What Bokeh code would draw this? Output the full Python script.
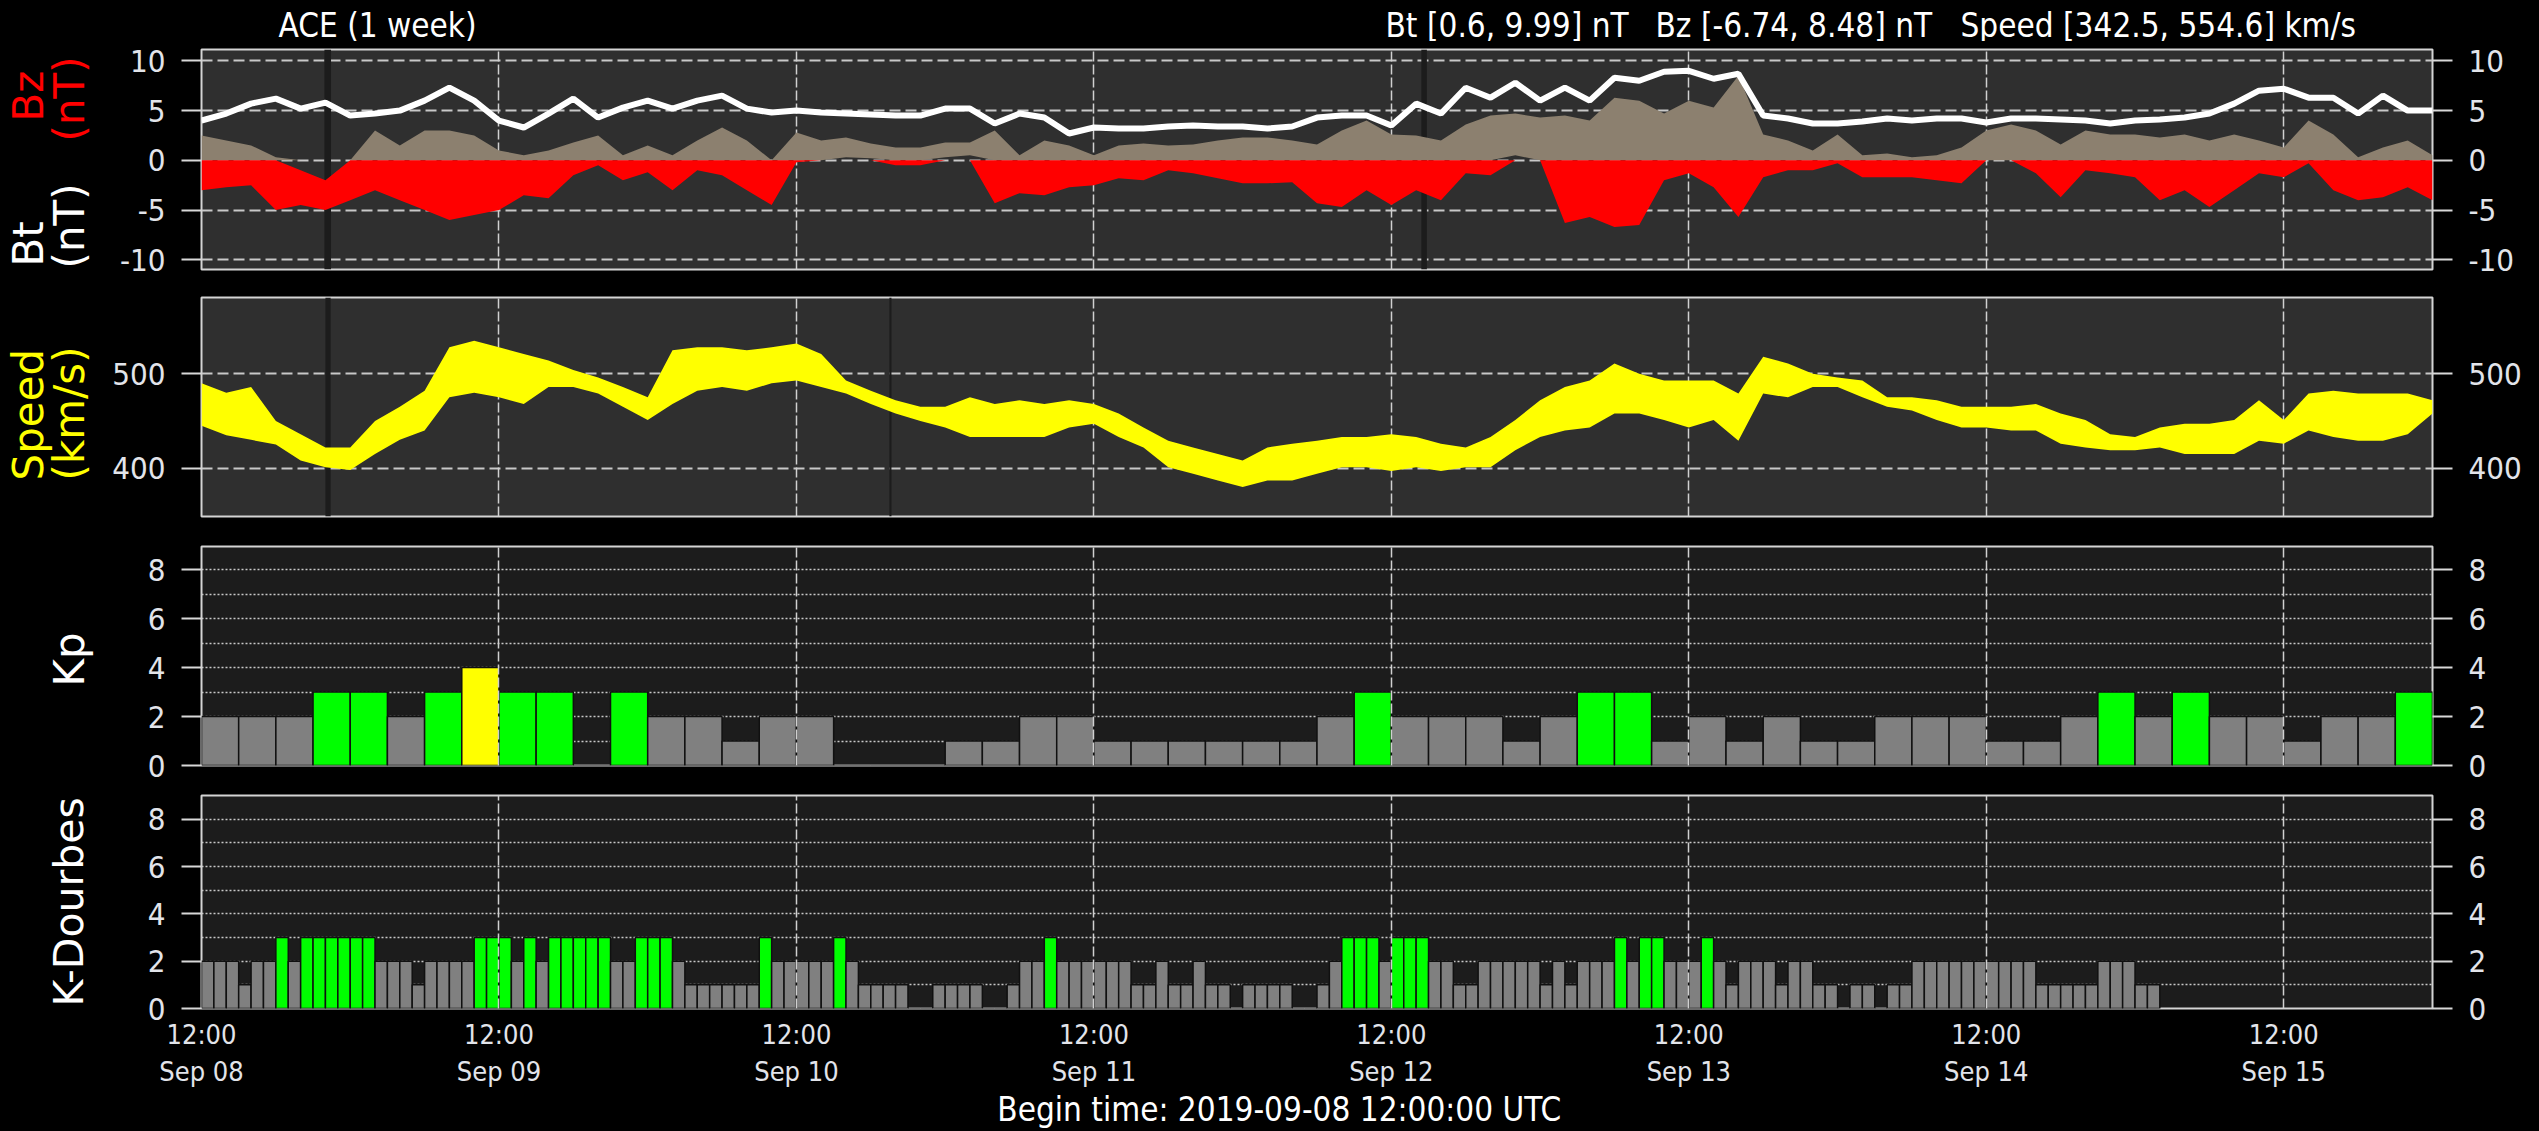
import numpy as np
import pandas as pd
from math import pi
from bokeh.plotting import figure
from bokeh.core.properties import value
from bokeh.models import (Range1d, LinearAxis, DatetimeAxis, FixedTicker, Grid,
                          DatetimeTickFormatter, BoxAnnotation, ColumnDataSource)
from bokeh.layouts import column, row
from bokeh.embed import file_html
from bokeh.resources import INLINE

# ---------------- data ----------------
BEGIN = "2019-09-08 12:00:00"
END = "2019-09-16 00:00:00"
SAMPLE_HOURS = 2          # Bt / Bz / speed samples every 2 hours

bt = [4.0, 4.7, 5.7, 6.2, 5.2, 5.8, 4.5, 4.7, 5.0, 6.0,
      7.3, 6.0, 4.0, 3.3, 4.7, 6.2, 4.3, 5.3, 6.0, 5.2,
      6.0, 6.5, 5.2, 4.8, 5.0, 4.8, 4.7, 4.6, 4.5, 4.5,
      5.2, 5.2, 3.7, 4.7, 4.3, 2.7, 3.3, 3.2, 3.2, 3.4,
      3.5, 3.4, 3.4, 3.2, 3.4, 4.3, 4.5, 4.5, 3.5, 5.7,
      4.7, 7.3, 6.3, 7.8, 6.0, 7.3, 6.0, 8.3, 8.0, 8.9,
      9.0, 8.2, 8.7, 4.5, 4.2, 3.7, 3.7, 3.9, 4.2, 4.0,
      4.2, 4.2, 3.8, 4.2, 4.2, 4.1, 4.0, 3.7, 4.0, 4.1,
      4.3, 4.7, 5.7, 7.0, 7.2, 6.3, 6.3, 4.7, 6.5, 5.0,
      5.0]

bz_lo = [-3.0, -2.7, -2.5, -5.0, -4.5, -5.0, -4.0, -3.0, -4.0, -5.0,
         -6.0, -5.5, -5.0, -3.5, -3.8, -1.5, -0.5, -2.0, -1.2, -3.0,
         -1.0, -1.5, -3.0, -4.5, -0.2, 0.0, 0.3, 0.2, -0.5, -0.5,
         0.3, 0.5, -4.3, -3.3, -3.5, -2.7, -2.5, -1.8, -2.0, -1.0,
         -1.3, -1.8, -2.3, -2.3, -2.2, -4.3, -4.7, -3.0, -4.5, -3.0,
         -4.0, -1.3, -1.5, 0.5, 0.0, -6.3, -5.7, -6.7, -6.5, -2.0,
         -1.3, -2.7, -5.7, -1.7, -1.0, -1.0, -0.3, -1.7, -1.7, -1.7,
         -2.0, -2.3, 0.0, 0.0, -1.3, -3.7, -1.0, -1.3, -1.7, -4.0,
         -3.0, -4.7, -3.0, -1.3, -1.7, -0.3, -3.0, -4.0, -3.7, -2.7,
         -4.0]

bz_hi = [2.5, 2.0, 1.5, 0.3, -1.0, -2.0, 0.0, 3.0, 1.5, 3.0,
         3.0, 2.5, 1.0, 0.5, 1.0, 1.8, 2.5, 0.5, 1.5, 0.5,
         2.0, 3.3, 2.0, 0.0, 2.8, 2.0, 2.3, 1.7, 1.3, 1.3,
         1.8, 1.8, 3.0, 0.5, 2.0, 1.5, 0.5, 1.5, 1.7, 1.5,
         1.6, 2.0, 2.3, 2.3, 2.0, 1.6, 3.0, 4.0, 2.6, 2.5,
         2.0, 3.6, 4.5, 4.7, 4.3, 4.5, 4.0, 6.3, 6.0, 4.7,
         6.0, 5.3, 8.5, 2.6, 2.0, 1.0, 2.6, 0.5, 0.7, 0.3,
         0.5, 1.3, 3.0, 3.6, 3.0, 1.6, 3.0, 2.6, 2.6, 2.3,
         2.6, 2.0, 2.6, 2.0, 1.3, 4.0, 2.6, 0.3, 1.3, 2.0,
         0.5]

speed_lo = [445, 435, 430, 425, 408, 401, 398, 415, 430, 440,
            475, 480, 475, 468, 486, 486, 479, 465, 451, 468,
            482, 486, 482, 490, 493, 486, 479, 468, 458, 450,
            443, 433, 433, 433, 433, 443, 447, 433, 422, 401,
            394, 387, 380, 387, 387, 394, 401, 401, 397, 401,
            397, 401, 401, 419, 433, 440, 443, 458, 458, 451,
            443, 451, 429, 479, 475, 486, 486, 475, 465, 461,
            451, 443, 443, 440, 440, 426, 422, 419, 419, 422,
            415, 415, 415, 429, 426, 440, 433, 429, 429, 436,
            458]

speed_hi = [490, 480, 486, 450, 436, 422, 422, 450, 465, 482,
            528, 535, 528, 521, 514, 504, 496, 486, 475, 525,
            528, 528, 525, 528, 532, 521, 493, 482, 472, 465,
            465, 475, 468, 472, 468, 472, 468, 458, 443, 429,
            422, 415, 408, 422, 426, 429, 433, 433, 436, 433,
            426, 422, 433, 451, 472, 486, 493, 511, 500, 493,
            493, 493, 479, 518, 511, 500, 496, 493, 475, 475,
            472, 465, 465, 465, 468, 458, 451, 436, 433, 443,
            447, 447, 451, 472, 451, 479, 482, 479, 479, 479,
            472]

KP_HOURS = 3
kp = [2, 2, 2, 3, 3, 2, 3, 4, 3, 3, 0, 3, 2, 2, 1, 2, 2, 0, 0, 0, 1, 1, 2, 2,
      1, 1, 1, 1, 1, 1, 2, 3, 2, 2, 2, 1, 2, 3, 3, 1, 2, 1, 2, 1, 1, 2, 2, 2,
      1, 1, 2, 3, 2, 3, 2, 2, 1, 2, 2, 3]

KD_HOURS = 1
k_dourbes = [2, 2, 2, 1, 2, 2, 3, 2, 3, 3, 3, 3, 3, 3, 2, 2, 2, 1, 2, 2, 2, 2, 3, 3,
             3, 2, 3, 2, 3, 3, 3, 3, 3, 2, 2, 3, 3, 3, 2, 1, 1, 1, 1, 1, 1, 3, 2, 2,
             2, 2, 2, 3, 2, 1, 1, 1, 1, 0, 0, 1, 1, 1, 1, 0, 0, 1, 2, 2, 3, 2, 2, 2,
             2, 2, 2, 1, 1, 2, 1, 1, 2, 1, 1, 0, 1, 1, 1, 1, 0, 0, 1, 2, 3, 3, 3, 2,
             3, 3, 3, 2, 2, 1, 1, 2, 2, 2, 2, 2, 1, 2, 1, 2, 2, 2, 3, 2, 3, 3, 2, 2,
             2, 3, 2, 1, 2, 2, 2, 1, 2, 2, 1, 1, 0, 1, 1, 0, 1, 1, 2, 2, 2, 2, 2, 2,
             2, 2, 2, 2, 1, 1, 1, 1, 1, 2, 2, 2, 1, 1]

day_ticks = ["2019-09-08 12:00", "2019-09-09 12:00", "2019-09-10 12:00", "2019-09-11 12:00",
             "2019-09-12 12:00", "2019-09-13 12:00", "2019-09-14 12:00", "2019-09-15 12:00"]

mag_gaps = [("2019-09-08 21:55", "2019-09-08 22:27"), ("2019-09-12 14:25", "2019-09-12 14:52")]
speed_gaps = [("2019-09-08 22:00", "2019-09-08 22:25"), ("2019-09-10 19:30", "2019-09-10 19:40")]

header = ["ACE (1 week)", "Bt [0.6, 9.99] nT", "Bz [-6.74, 8.48] nT", "Speed [342.5, 554.6] km/s"]
mag_ticks = [-10, -5, 0, 5, 10]
speed_ticks = [400, 500]
k_ticks = [0, 2, 4, 6, 8]
k_grid = [1, 2, 3, 4, 5, 6, 7, 8]

# ---------------- helpers ----------------
def ms(ts):
    return pd.Timestamp(ts).value / 1e6

t0 = pd.Timestamp(BEGIN)
t_samp = t0 + pd.to_timedelta(np.arange(len(bt)) * SAMPLE_HOURS, unit="h")
tick_ms = [ms(d) for d in day_ticks]

TOTAL_W = 2539
LAB_W = 108
W = TOTAL_W - LAB_W
COND = "DejaVu Sans Condensed"
LAB = "DejaVu Sans"
TICK_COL = "#e2e4ea"


def kcolor(v):
    if v >= 5:
        return "#ff0000"
    if v >= 4:
        return "#ffff00"
    if v >= 3:
        return "#00ff00"
    return "#808080"


def label_fig(height, top, bottom):
    # text strip whose frame matches its neighbour's frame; data units == canvas pixels
    p = figure(width=LAB_W, height=height, x_range=Range1d(0, LAB_W),
               y_range=Range1d(bottom, height - top),
               x_axis_type=None, y_axis_type=None, tools="", toolbar_location=None,
               output_backend="svg", min_border_left=0, min_border_right=0,
               min_border_top=top, min_border_bottom=bottom, outline_line_color=None,
               background_fill_color="black", border_fill_color="black")
    return p


def strip_fig(width, height):
    p = figure(width=width, height=height, x_range=Range1d(0, width), y_range=Range1d(0, height),
               x_axis_type=None, y_axis_type=None, tools="", toolbar_location=None,
               output_backend="svg", min_border=0, outline_line_color=None,
               background_fill_color="black", border_fill_color="black")
    return p


def make_fig(height, top, bottom, y0, y1, bg):
    p = figure(width=W, height=height, x_range=Range1d(ms(BEGIN), ms(END)),
               y_range=Range1d(y0, y1), x_axis_type=None, y_axis_type=None,
               tools="", toolbar_location=None, output_backend="svg",
               min_border_left=93, min_border_right=107, min_border_top=top,
               min_border_bottom=bottom, background_fill_color=bg,
               border_fill_color="black", outline_line_color="#d4d4d4",
               outline_line_width=2)
    return p


def style_axis(ax, size):
    ax.axis_line_color = None
    ax.major_tick_line_color = "#d8d8d8"
    ax.major_tick_line_width = 2
    ax.major_tick_out = 20
    ax.major_tick_in = 0
    ax.minor_tick_line_color = None
    ax.major_label_text_font = COND
    ax.major_label_text_font_size = size
    ax.major_label_text_color = TICK_COL
    ax.major_label_standoff = 16


def add_y_axes(p, ticks):
    for side in ("left", "right"):
        ax = LinearAxis(ticker=FixedTicker(ticks=ticks))
        ax.major_label_overrides = {v: str(v) for v in ticks}
        style_axis(ax, "31px")
        p.add_layout(ax, side)


def add_grids(p, yticks, ydash, ywidth, vlevel):
    hg = Grid(dimension=1, ticker=FixedTicker(ticks=yticks), grid_line_color="#c8c8c8",
              grid_line_dash=ydash, grid_line_width=ywidth)
    p.add_layout(hg)
    vg = Grid(dimension=0, ticker=FixedTicker(ticks=tick_ms), grid_line_color="#d0d0d0",
              grid_line_dash="10 3", grid_line_width=1.5, level=vlevel)
    p.add_layout(vg)


def vtext(p, items, size="42px"):
    # items: (text, x, start y, color) ; text reads bottom -> top
    p.text(x=[i[1] for i in items], y=[i[2] for i in items], text=[i[0] for i in items],
           text_color=[i[3] for i in items], angle=pi / 2, text_align="left",
           text_baseline="alphabetic", text_font=value(LAB), text_font_size=size)


COL1, COL2 = 28, 68.5

# ---------------- header strip ----------------
H_HEAD = 41
head = strip_fig(TOTAL_W, H_HEAD)
head.text(x=[278, 1385, 1655, 1960], y=[16.5] * 4, text=header, text_color="white",
          text_align="left", text_baseline="alphabetic", text_font=value(COND),
          text_font_size="33px")

# ---------------- panel 1 : Bt / Bz ----------------
H1, T1, B1 = 242, 8, 14
p1 = make_fig(H1, T1, B1, -10.97, 11.14, "#2f2f2f")
add_y_axes(p1, mag_ticks)
add_grids(p1, mag_ticks, "11 5", 2, "underlay")
for a, b in mag_gaps:
    p1.add_layout(BoxAnnotation(left=ms(a), right=ms(b), fill_color="#1c1c1c",
                                fill_alpha=1, line_color=None, level="underlay"))
blo = np.array(bz_lo)
bhi = np.array(bz_hi)
src1 = ColumnDataSource(dict(t=t_samp, bt=bt,
                             red_lo=np.minimum(blo, 0), red_hi=np.minimum(bhi, 0),
                             tan_lo=np.maximum(blo, 0), tan_hi=np.maximum(bhi, 0)))
p1.varea(x="t", y1="tan_lo", y2="tan_hi", source=src1, fill_color="#8c806f")
p1.varea(x="t", y1="red_lo", y2="red_hi", source=src1, fill_color="#ff0000")
p1.line(x="t", y="bt", source=src1, line_color="white", line_width=6)

l1 = label_fig(H1, T1, B1)
vtext(l1, [("Bz", COL1, 162, "#ff0000"), ("(nT)", COL2, 142, "#ff0000"),
           ("Bt", COL1, 17, "white"), ("(nT)", COL2, 15, "white")])

# ---------------- panel 2 : speed ----------------
H2, T2, B2 = 248, 14, 15
p2 = make_fig(H2, T2, B2, 348.8, 580.8, "#2f2f2f")
add_y_axes(p2, speed_ticks)
add_grids(p2, speed_ticks, "11 5", 2, "underlay")
for a, b in speed_gaps:
    p2.add_layout(BoxAnnotation(left=ms(a), right=ms(b), fill_color="#1c1c1c",
                                fill_alpha=1, line_color=None, level="underlay"))
src2 = ColumnDataSource(dict(t=t_samp, lo=speed_lo, hi=speed_hi))
p2.varea(x="t", y1="lo", y2="hi", source=src2, fill_color="#ffff00")

l2 = label_fig(H2, T2, B2)
vtext(l2, [("Speed", COL1, 51, "#ffff00"), ("(km/s)", COL2, 51, "#ffff00")])

# ---------------- panel 3 : Kp ----------------
H3, T3, B3 = 256, 15, 22
p3 = make_fig(H3, T3, B3, 0, 8.95, "#1c1c1c")
add_y_axes(p3, k_ticks)
add_grids(p3, k_grid, "2 2", 1.5, "annotation")
kp_t = t0 + pd.to_timedelta(np.arange(len(kp)) * KP_HOURS + KP_HOURS / 2, unit="h")
src3 = ColumnDataSource(dict(t=kp_t, v=kp, c=[kcolor(v) for v in kp]))
p3.vbar(x="t", top="v", bottom=0, width=KP_HOURS * 3600 * 1000, source=src3,
        fill_color="c", line_color="#101010", line_width=1.5)

l3 = label_fig(H3, T3, B3)
vtext(l3, [("Kp", COL2, 101, "white")])

# ---------------- panel 4 : K-Dourbes ----------------
H4, T4, B4 = 344, 8, 117
p4 = make_fig(H4, T4, B4, 0, 9.0, "#1c1c1c")
add_y_axes(p4, k_ticks)
add_grids(p4, k_grid, "2 2", 1.5, "annotation")
kd_t = t0 + pd.to_timedelta(np.arange(len(k_dourbes)) * KD_HOURS + KD_HOURS / 2, unit="h")
src4 = ColumnDataSource(dict(t=kd_t, v=k_dourbes, c=[kcolor(v) for v in k_dourbes]))
p4.vbar(x="t", top="v", bottom=0, width=KD_HOURS * 3600 * 1000, source=src4,
        fill_color="c", line_color="#101010", line_width=1.5)

fmt = "%H:%M\n%b %d"
xax = DatetimeAxis(ticker=FixedTicker(ticks=tick_ms),
                   formatter=DatetimeTickFormatter(microseconds=fmt, milliseconds=fmt, seconds=fmt,
                                                   minsec=fmt, minutes=fmt, hourmin=fmt, hours=fmt,
                                                   days=fmt, months=fmt, years=fmt))
style_axis(xax, "27px")
xax.major_tick_out = 0
xax.major_label_standoff = 10
xax.axis_label = "Begin time: " + BEGIN + " UTC" + "\u00a0" * 8
xax.axis_label_text_font = COND
xax.axis_label_text_font_size = "33px"
xax.axis_label_text_font_style = "normal"
xax.axis_label_text_color = "white"
xax.axis_label_standoff = 0
p4.add_layout(xax, "below")

l4 = label_fig(H4, T4, B4)
vtext(l4, [("K-Dourbes", COL2, 119, "white")], size="41px")

layout = column(head,
                row(l1, p1, spacing=0),
                row(l2, p2, spacing=0),
                row(l3, p3, spacing=0),
                row(l4, p4, spacing=0),
                spacing=0, styles={"background-color": "black"})
html = file_html(layout, INLINE, title="ACE (1 week)")
html = html.replace("<body>", '<body style="background-color:black; margin:0; overflow:hidden;">', 1)
open("out.html", "w").write(html)
